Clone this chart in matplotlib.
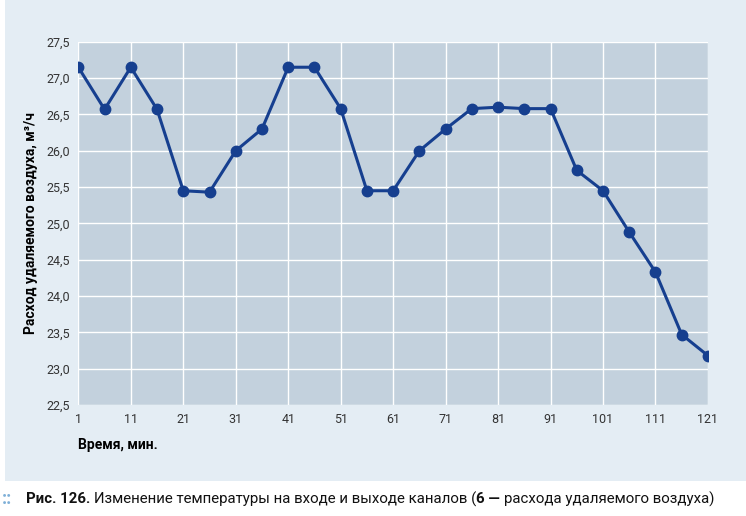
import matplotlib
matplotlib.use("Agg")
import matplotlib.pyplot as plt
from matplotlib.patches import Rectangle

minutes = list(range(1, 122, 5))
flow = [27.15, 26.57, 27.15, 26.57, 25.45, 25.43, 26.0, 26.3, 27.15, 27.15,
        26.58, 25.45, 25.45, 26.0, 26.3, 26.58, 26.6, 26.58, 26.58, 25.73,
        25.45, 24.88, 24.33, 23.47, 23.18]
xticks = list(range(1, 122, 10))
yticks = [22.5 + 0.5 * i for i in range(11)]

plt.rcParams['font.family'] = ['Roboto', 'DejaVu Sans']
fig = plt.figure(figsize=(7.46, 5.16), dpi=100)
bg = Rectangle((0.007, 0.068), 0.993, 0.932, transform=fig.transFigure,
               facecolor='#e4edf4', edgecolor='none', zorder=-10)
fig.patches.append(bg)
ax = fig.add_axes([0.105, 0.215, 0.844, 0.704])
ax.set_zorder(5)
ax.set_facecolor('#c3d1dd')
ax.plot(minutes, flow, color='#163f8f', lw=2.2, marker='o', ms=7.5,
        markerfacecolor='#163f8f', markeredgecolor='#163f8f', zorder=3)
ax.set_xlim(1, 121)
ax.set_ylim(22.5, 27.5)
ax.set_xticks(xticks)
ax.set_yticks(yticks)
ax.set_yticklabels([f"{v:.1f}".replace('.', ',') for v in yticks])
ax.grid(True, color='white', lw=1)
for s in ax.spines.values():
    s.set_visible(False)
ax.tick_params(length=0, labelsize=9, colors='#333333', pad=6)
ax.set_ylabel('Расход удаляемого воздуха, м³/ч', fontsize=10, fontweight='bold', labelpad=6)
ax.set_xlabel('Время, мин.', fontsize=10, fontweight='bold', loc='left', labelpad=8)

fig.text(0.003, 0.032, '::', fontsize=13, color='#7fb0d8', fontweight='bold', va='center')
parts = [('Рис. 126. ', 'bold'), ('Изменение температуры на входе и выходе каналов (', 'normal'),
         ('6 — ', 'bold'), ('расхода удаляемого воздуха)', 'normal')]
r = fig.canvas.get_renderer()
x = 0.035
for txt, w in parts:
    t = fig.text(x, 0.032, txt, fontsize=10.8, fontweight=w, va='center', color='#111111')
    bb = t.get_window_extent(renderer=r)
    x += bb.width / fig.bbox.width
fig.savefig('out.png', dpi=100)
